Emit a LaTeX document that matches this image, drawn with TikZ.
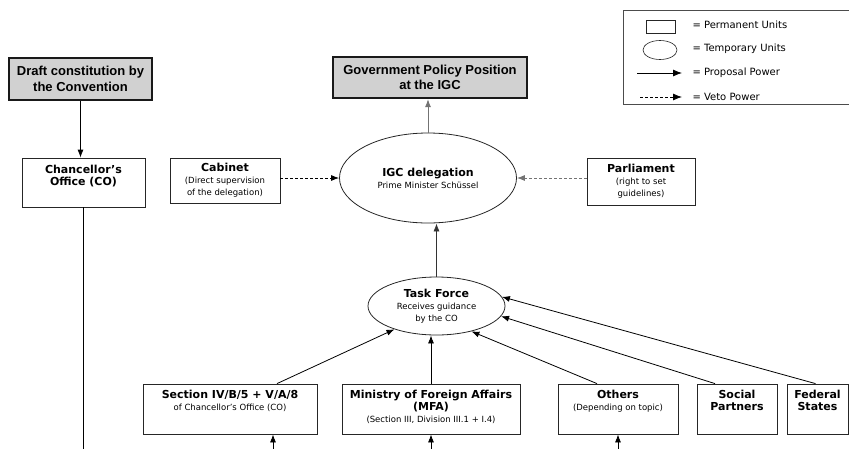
\documentclass[tikz,border=0pt]{standalone}
\usepackage{fontspec}
\setmainfont{DejaVu Sans}
\newfontfamily\headfont{Liberation Sans}
\usetikzlibrary{arrows.meta,positioning,shapes.geometric}

\newcommand{\boxhead}{\bfseries\fontsize{11}{13.5}\selectfont}
\newcommand{\boxnote}{\fontsize{8.5}{11}\selectfont}
\newcommand{\keyfont}{\fontsize{10}{12}\selectfont}

\tikzset{
  unit/.style={draw=black!85,line width=0.8pt,rectangle,inner sep=0pt},
  tempunit/.style={draw=black!85,line width=0.8pt,ellipse,inner sep=0pt,align=center},
  topbox/.style={draw=black!90,line width=2.4pt,fill=black!18,inner sep=0pt,align=center,
    font=\headfont\bfseries\fontsize{13}{15.5}\selectfont},
  boxtext/.style={anchor=north,align=center,inner sep=0pt},
  proposal/.style={-{Latex[length=8pt,width=6pt]},line width=0.8pt},
  veto/.style={proposal,dash pattern=on 3pt off 2pt},
}

\begin{document}
\begin{tikzpicture}[x=1pt,y=-1pt]
  \useasboundingbox (0,0) rectangle (849,448);

  % legend
  \draw[line width=0.6pt,black!70] (849,10) -- (623,10) -- (623,104) -- (849,104);
  \node[unit,minimum width=29pt,minimum height=13pt] (permKey) at (660.5,26.5) {};
  \node[tempunit,minimum width=34pt,minimum height=19pt,line width=0.6pt] (tempKey) at (660,50) {};
  \coordinate (propA) at (637,73);
  \coordinate (propB) at (682,73);
  \coordinate (vetoA) at (640,97);
  \coordinate (vetoB) at (682,97);
  \draw[proposal,-{Latex[length=9pt,width=7pt]}] (propA) -- (propB);
  \draw[veto,-{Latex[length=9pt,width=7pt]}] (vetoA) -- (vetoB);
  \node[anchor=west,font=\keyfont] (permText) at (689,25) {= Permanent Units};
  \node[anchor=west,font=\keyfont] (tempText) at (689,49) {= Temporary Units};
  \node[anchor=west,font=\keyfont] (propText) at (689,73) {= Proposal Power};
  \node[anchor=west,font=\keyfont] (vetoText) at (689,97) {= Veto Power};

  % top level
  \node[topbox,minimum width=143pt,minimum height=42pt] (draft) at (80.5,79)
    {Draft constitution by\\the Convention};
  \node[topbox,minimum width=194pt,minimum height=41pt] (gov) at (430,77.5)
    {Government Policy Position\\at the IGC};

  % second row
  \node[unit,minimum width=123pt,minimum height=49pt] (co) at (83.5,182.5) {};
  \node[boxtext] (coText) at ([yshift=-7pt]co.north) {\boxhead Chancellor's\\\boxhead Office (CO)};
  \node[unit,minimum width=110pt,minimum height=45pt,align=center] (cabinet) at (225,180.5)
    {{\boxhead Cabinet}\\{\boxnote (Direct supervision}\\{\boxnote of the delegation)}};
  \node[tempunit,minimum width=177pt,minimum height=90pt] (igc) at (428,178)
    {{\boxhead IGC delegation}\\{\boxnote Prime Minister Schüssel}};
  \node[unit,minimum width=108pt,minimum height=47pt,align=center] (parl) at (641,181.5)
    {{\boxhead Parliament}\\{\boxnote (right to set}\\{\boxnote guidelines)}};

  \node[tempunit,minimum width=137pt,minimum height=58pt] (task) at (436.5,306)
    {{\boxhead Task Force}\\{\boxnote Receives guidance}\\{\boxnote by the CO}};

  % bottom row
  \node[unit,minimum width=174pt,minimum height=50pt] (sect) at (230,409) {};
  \node[unit,minimum width=178pt,minimum height=50pt] (mfa) at (431,409) {};
  \node[unit,minimum width=120pt,minimum height=50pt] (others) at (618,409) {};
  \node[unit,minimum width=80pt,minimum height=50pt] (social) at (737,409) {};
  \node[unit,minimum width=61pt,minimum height=50pt] (fed) at (817.5,409) {};
  \node[boxtext] (sectText) at ([yshift=-6pt]sect.north)
    {{\boxhead Section IV/B/5 + V/A/8}\\{\boxnote of Chancellor's Office (CO)}};
  \node[boxtext] (mfaText) at ([yshift=-6pt]mfa.north)
    {{\boxhead Ministry of Foreign Affairs}\\{\boxhead (MFA)}\\{\boxnote (Section III, Division III.1 + I.4)}};
  \node[boxtext] (othersText) at ([yshift=-6pt]others.north)
    {{\boxhead Others}\\{\boxnote (Depending on topic)}};
  \node[boxtext] (socialText) at ([yshift=-6pt]social.north)
    {{\boxhead Social}\\{\boxhead Partners}};
  \node[boxtext] (fedText) at ([yshift=-6pt]fed.north)
    {{\boxhead Federal}\\{\boxhead States}};

  % free ends at the lower edge
  \coordinate (coEnd) at (83.5,452);
  \coordinate (sectIn) at (273,452);
  \coordinate (mfaIn) at (431,452);
  \coordinate (othersIn) at (618,452);

  % connectors
  \draw[proposal] (draft.south) -- (draft.south |- co.north);
  \draw[line width=0.8pt] (co.south) -- (coEnd);
  \draw[proposal,black!55] (igc.north) -- (igc.north |- gov.south);
  \draw[veto] (cabinet.east |- igc.west) -- (igc.west);
  \draw[veto,black!55] (parl.west |- igc.east) -- (igc.east);
  \draw[proposal,black!80] (task.north) -- (task.north |- igc.south);

  \draw[proposal] ([xshift=47pt]sect.north) -- (task.209);
  \draw[proposal] (mfa.north) -- (mfa.north |- task.south);
  \draw[proposal] ([xshift=-21pt]others.north) -- (task.-36);
  \draw[proposal] ([xshift=-22pt]social.north) -- (task.-9);
  \draw[proposal] ([xshift=-2pt]fed.north) -- (task.8);

  \draw[proposal] (sectIn) -- (sect.south -| sectIn);
  \draw[proposal] (mfaIn) -- (mfa.south);
  \draw[proposal] (othersIn) -- (others.south);
\end{tikzpicture}
\end{document}
